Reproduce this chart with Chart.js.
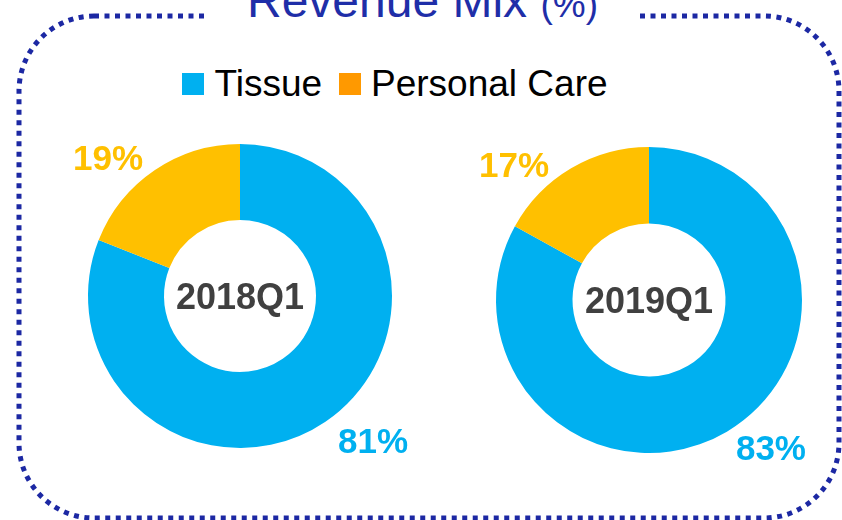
<!DOCTYPE html>
<html><head><meta charset="utf-8">
<script src="https://cdn.jsdelivr.net/npm/chart.js@4/dist/chart.umd.min.js"></script>
<style>
html,body{margin:0;padding:0;background:#fff;}
#wrap{position:relative;width:842px;height:520px;overflow:hidden;font-family:"Liberation Sans",Arial,sans-serif;}
#frame{position:absolute;left:0;top:0;}
#title{position:absolute;left:205px;width:435px;top:-23px;height:48px;line-height:48px;background:#fff;text-align:center;color:#1F2EA8;white-space:nowrap;font-size:48px;}
#title small{font-size:37px;}
#legend{position:absolute;left:0;width:790px;top:63px;display:flex;justify-content:center;align-items:center;font-size:37px;color:#000;white-space:nowrap;}
.item{display:flex;align-items:center;}
.item + .item{margin-left:17px;}
.sw{width:22px;height:22px;margin-right:10px;}
canvas{position:absolute;}
</style></head>
<body><div id="wrap">
<svg id="frame" width="842" height="520"><rect x="19" y="16" width="820" height="502" rx="75" ry="75" fill="none" stroke="#1C28A3" stroke-width="5" stroke-dasharray="5 5.5"/></svg>
<div id="title">Revenue Mix <small>(%)</small></div>
<div id="legend"></div>
<canvas id="c1" width="421" height="420" style="left:0;top:100px"></canvas>
<canvas id="c2" width="421" height="420" style="left:421px;top:100px"></canvas>
</div>
<script>
const categories = ['Tissue', 'Personal Care'];
const periods = ['2018Q1', '2019Q1'];
const mix2018Q1 = [81, 19];
const mix2019Q1 = [83, 17];
const sliceColors = ['#00B0F0', '#FFC000'];
const legendColors = ['#00B0F0', '#FF9900'];

const leg = document.getElementById('legend');
categories.forEach((c, i) => {
  const it = document.createElement('div'); it.className = 'item';
  const sw = document.createElement('div'); sw.className = 'sw'; sw.style.background = legendColors[i];
  const tx = document.createElement('span'); tx.textContent = c;
  it.appendChild(sw); it.appendChild(tx); leg.appendChild(it);
});

const labelPlugin = {
  id: 'labels',
  afterDraw(chart, args, opts) {
    const ctx = chart.ctx;
    const meta = chart.getDatasetMeta(0);
    const arc = meta.data[0];
    const cx = arc.x, cy = arc.y, r = arc.outerRadius;
    ctx.save();
    ctx.textAlign = 'center'; ctx.textBaseline = 'middle';
    ctx.fillStyle = '#404040';
    ctx.font = 'bold 36px "Liberation Sans", Arial, sans-serif';
    ctx.fillText(opts.center, cx, cy + 3);
    ctx.font = 'bold 35px "Liberation Sans", Arial, sans-serif';
    const data = chart.data.datasets[0].data;
    data.forEach((v, i) => {
      ctx.fillStyle = sliceColors[i];
      ctx.fillText(v + '%', cx + opts.pos[i][0] * r, cy + opts.pos[i][1] * r);
    });
    ctx.restore();
  }
};

function makeChart(id, data, center, padding, pos) {
  return new Chart(document.getElementById(id), {
    type: 'doughnut',
    data: { labels: categories, datasets: [{ data: data, backgroundColor: sliceColors, borderWidth: 0 }] },
    options: {
      responsive: false, animation: false, cutout: '50%',
      layout: { padding: padding },
      plugins: { legend: { display: false }, tooltip: { enabled: false }, labels: { center: center, pos: pos } }
    },
    plugins: [labelPlugin]
  });
}
makeChart('c1', mix2018Q1, periods[0], {left:88, right:29, top:44, bottom:72}, [[0.875, 0.967], [-0.868, -0.895]]);
makeChart('c2', mix2019Q1, periods[1], {left:75, right:40, top:47, bottom:67}, [[0.797, 0.98], [-0.882, -0.869]]);
</script>
</body></html>
